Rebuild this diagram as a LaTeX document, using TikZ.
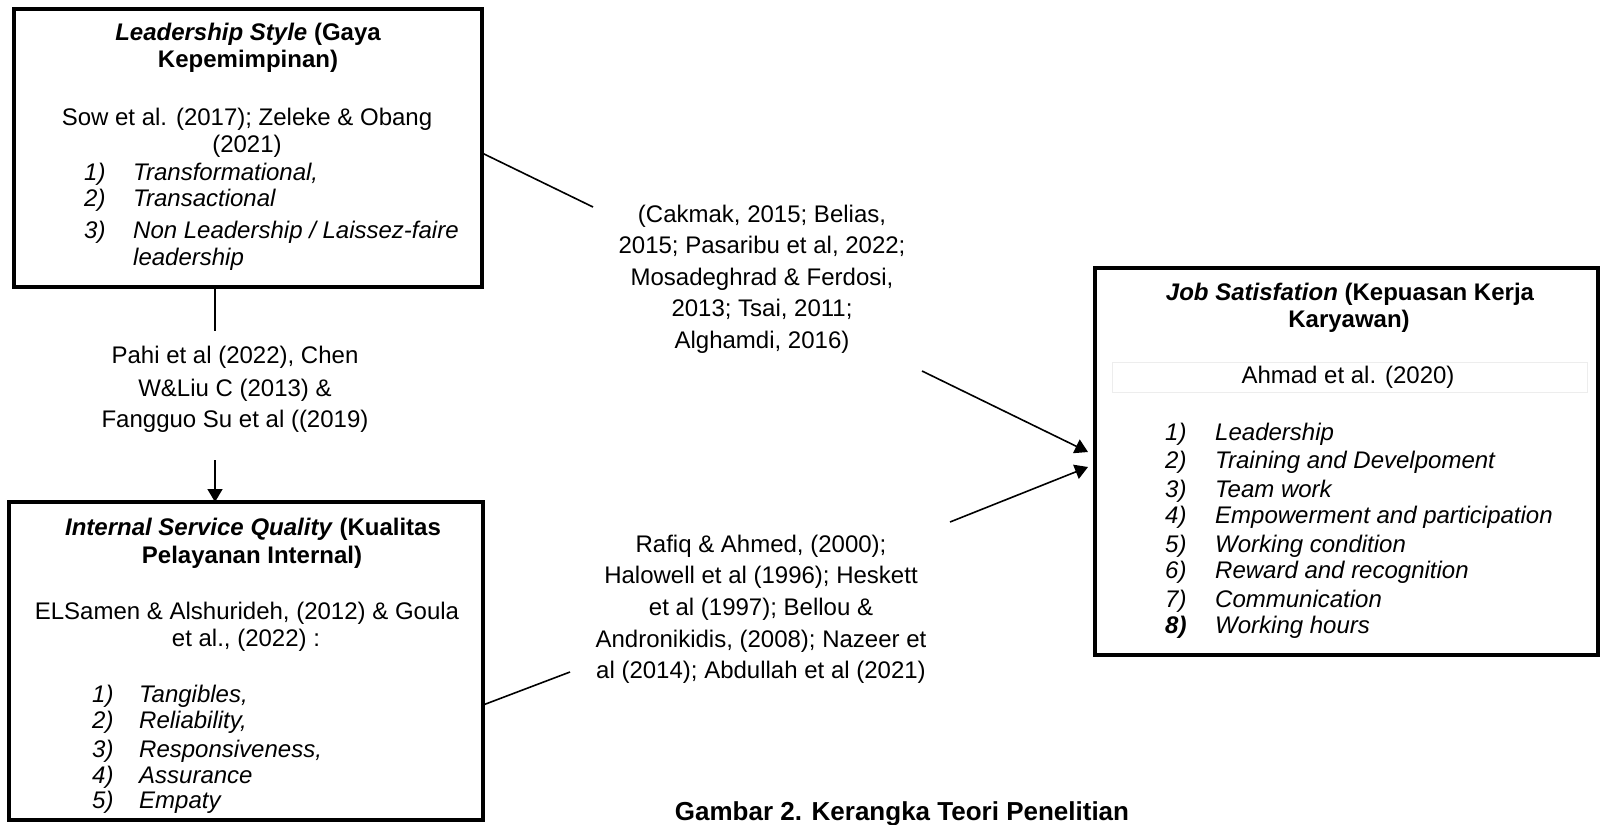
\documentclass[tikz,border=0pt]{standalone}
\usepackage{fontspec}
\setmainfont{Liberation Sans}
\usetikzlibrary{arrows.meta}
\tikzset{
  boxframe/.style={draw=black, line width=4.5pt, rectangle, inner sep=0pt, outer sep=0pt, anchor=north west},
  txt/.style={font=\fontsize{24}{27.5}\selectfont, inner sep=0pt, anchor=base},
  itm/.style={txt, anchor=base west, font=\fontsize{24}{27.5}\selectfont\itshape},
  conn/.style={draw=black, line width=1.6pt},
  arr/.style={conn, -{Triangle[length=13pt,width=15pt]}}
}
\begin{document}
\begin{tikzpicture}[x=1pt,y=-1pt]
\useasboundingbox[fill=white] (0,0) rectangle (1605,824);

% boxes
\node[boxframe, minimum width=468pt, minimum height=278pt] (ls) at (14,9) {};
\node[boxframe, minimum width=474pt, minimum height=318pt] (isq) at (9,502) {};
\node[boxframe, minimum width=503pt, minimum height=387pt] (js) at (1095,268) {};

% box 1 text
\node[txt] (lsT1) at (248,41) {\bfseries\textit{Leadership Style} (Gaya};
\node[txt] (lsT2) at (248,68) {\bfseries Kepemimpinan)};
\node[txt] (lsR1) at (247,125) {Sow et al. (2017); Zeleke \& Obang};
\node[txt] (lsR2) at (247,152) {(2021)};
\node[itm] (lsN1) at (84,180) {1)};
\node[itm] (lsI1) at (133,180) {Transformational,};
\node[itm] (lsN2) at (84,206) {2)};
\node[itm] (lsI2) at (133,206) {Transactional};
\node[itm] (lsN3) at (84,238) {3)};
\node[itm] (lsI3) at (133,238) {Non Leadership / Laissez-faire};
\node[itm] (lsI3b) at (133,265) {leadership};

% box 2 text
\node[txt] (isqT1) at (253,535) {\bfseries\textit{Internal Service Quality} (Kualitas};
\node[txt] (isqT2) at (252,563) {\bfseries Pelayanan Internal)};
\node[txt] (isqR1) at (247,619) {ELSamen \& Alshurideh, (2012) \& Goula};
\node[txt] (isqR2) at (246,646) {et al., (2022) :};
\node[itm] (isqN1) at (92,702) {1)};
\node[itm] (isqI1) at (139,702) {Tangibles,};
\node[itm] (isqN2) at (92,728) {2)};
\node[itm] (isqI2) at (139,728) {Reliability,};
\node[itm] (isqN3) at (92,757) {3)};
\node[itm] (isqI3) at (139,757) {Responsiveness,};
\node[itm] (isqN4) at (92,783) {4)};
\node[itm] (isqI4) at (139,783) {Assurance};
\node[itm] (isqN5) at (92,808) {5)};
\node[itm] (isqI5) at (139,808) {Empaty};

% box 3 text
\node[txt] (jsT1) at (1350,300) {\bfseries\textit{Job Satisfation} (Kepuasan Kerja};
\node[txt] (jsT2) at (1349,327) {\bfseries Karyawan)};
\node[draw=black!7, line width=0.8pt, minimum width=475pt, minimum height=30pt, inner sep=0pt] (jsRf) at (1349.5,377) {};
\node[txt] (jsR) at (1348,383) {Ahmad et al. (2020)};
\node[itm] (jsN1) at (1165,440) {1)};
\node[itm] (jsI1) at (1215,440) {Leadership};
\node[itm] (jsN2) at (1165,468) {2)};
\node[itm] (jsI2) at (1215,468) {Training and Develpoment};
\node[itm] (jsN3) at (1165,497) {3)};
\node[itm] (jsI3) at (1215,497) {Team work};
\node[itm] (jsN4) at (1165,523) {4)};
\node[itm] (jsI4) at (1215,523) {Empowerment and participation};
\node[itm] (jsN5) at (1165,552) {5)};
\node[itm] (jsI5) at (1215,552) {Working condition};
\node[itm] (jsN6) at (1165,578) {6)};
\node[itm] (jsI6) at (1215,578) {Reward and recognition};
\node[itm] (jsN7) at (1165,607) {7)};
\node[itm] (jsI7) at (1215,607) {Communication};
\node[itm] (jsN8) at (1165,633) {\bfseries 8)};
\node[itm] (jsI8) at (1215,633) {Working hours};

% connector labels
\node[txt] (up1) at (762,222) {(Cakmak, 2015; Belias,};
\node[txt] (up2) at (762,253) {2015; Pasaribu et al, 2022;};
\node[txt] (up3) at (762,285) {Mosadeghrad \& Ferdosi,};
\node[txt] (up4) at (762,316) {2013; Tsai, 2011;};
\node[txt] (up5) at (762,348) {Alghamdi, 2016)};

\node[txt] (lo1) at (761,552) {Rafiq \& Ahmed, (2000);};
\node[txt] (lo2) at (761,583) {Halowell et al (1996); Heskett};
\node[txt] (lo3) at (761,615) {et al (1997); Bellou \&};
\node[txt] (lo4) at (761,647) {Andronikidis, (2008); Nazeer et};
\node[txt] (lo5) at (761,678) {al (2014); Abdullah et al (2021)};

\node[txt] (le1) at (235,363) {Pahi et al (2022), Chen};
\node[txt] (le2) at (235,396) {W\&Liu C (2013) \&};
\node[txt] (le3) at (235,427) {Fangguo Su et al ((2019)};

% caption
\node[txt, font=\fontsize{26}{30}\selectfont\bfseries] (cap) at (902,820) {Gambar 2. Kerangka Teori Penelitian};

% connector coordinates
\coordinate (a1s) at (ls.east |- 0,153);
\coordinate (a1m) at (593,207);
\coordinate (a1n) at (922,371);
\coordinate (a1e) at (1088,452);
\coordinate (a2s) at (isq.east |- 0,705);
\coordinate (a2m) at (570,672);
\coordinate (a2n) at (950,522);
\coordinate (a2e) at (1088,467);
\coordinate (a3m) at (215,331);
\coordinate (a3n) at (215,460);
\coordinate (a3s) at (ls.south -| a3m);
\coordinate (a3e) at (isq.north -| a3m);

\draw[conn] (a1s) -- (a1m);
\draw[arr] (a1n) -- (a1e);
\draw[conn] (a2s) -- (a2m);
\draw[arr] (a2n) -- (a2e);
\draw[conn] (a3s) -- (a3m);
\draw[arr] (a3n) -- (a3e);
\end{tikzpicture}
\end{document}
